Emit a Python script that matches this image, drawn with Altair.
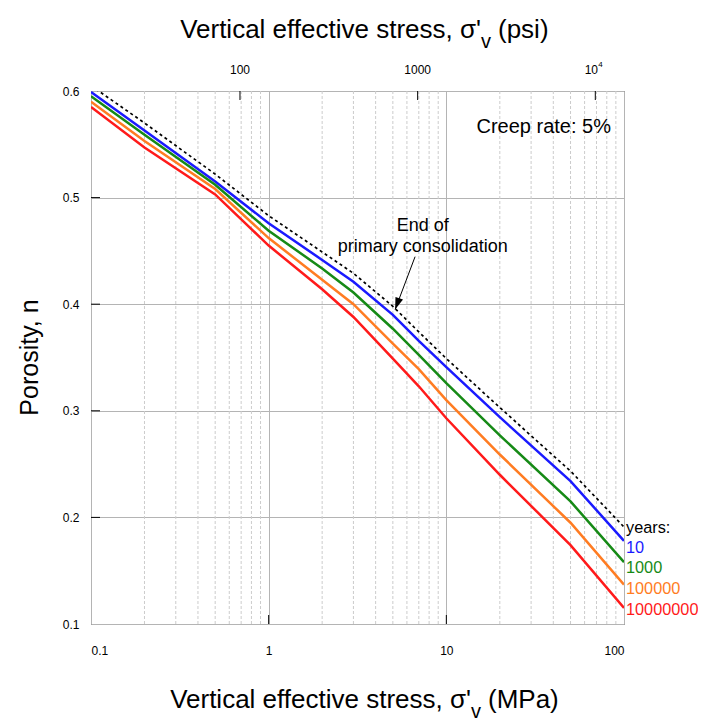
import altair as alt
import pandas as pd

# ---------------- data ----------------
stress_mpa = [0.1, 0.2, 0.5, 1, 2, 3, 5, 7, 10, 20, 50, 100]
n_primary = [0.605, 0.570, 0.522, 0.483, 0.449, 0.429, 0.398, 0.374, 0.349, 0.303, 0.2435, 0.191]
n_10yr = [0.599, 0.563, 0.515, 0.476, 0.4415, 0.421, 0.390, 0.3655, 0.341, 0.294, 0.234, 0.178]
n_1000yr = [0.595, 0.559, 0.512, 0.469, 0.4335, 0.411, 0.377, 0.3525, 0.326, 0.277, 0.215, 0.158]
n_1e5yr = [0.590, 0.553, 0.508, 0.462, 0.423, 0.400, 0.363, 0.339, 0.310, 0.259, 0.195, 0.137]
n_1e7yr = [0.585, 0.547, 0.503, 0.455, 0.414, 0.388, 0.349, 0.323, 0.293, 0.240, 0.174, 0.115]

series_names = ["10", "1000", "100000", "10000000"]
series_colors = ["#1a1aff", "#168a16", "#ff7c22", "#ff1a1a"]
series_label_n = [0.1713, 0.1525, 0.1328, 0.1131]
years_label_n = 0.190

x_major = [0.1, 1, 10, 100]
x_minor = [0.2, 0.3, 0.4, 0.5, 0.6, 0.7, 0.8, 0.9,
           2, 3, 4, 5, 6, 7, 8, 9,
           20, 30, 40, 50, 60, 70, 80, 90]
x_inner_ticks = [1, 10]
y_values = [0.1, 0.2, 0.3, 0.4, 0.5, 0.6]
y_inner_ticks = [0.2, 0.3, 0.4, 0.5]
psi_ticks = [100, 1000, 10000]
psi_labels = ["100", "1000", "10"]
psi_superscript = "4"
PSI_TO_MPA = 0.00689476

creep_text = "Creep rate: 5%"
creep_pos = (84.5, 0.5665)
eop_lines = ["End of", "primary consolidation"]
eop_pos = [(7.36, 0.4734), (7.36, 0.4540)]
arrow_start = (6.67, 0.4446)
arrow_tip = (5.15, 0.395)

FONT = "Liberation Sans, Arial, sans-serif"
W, H = 533, 533

# ---------------- tables ----------------
curves = pd.DataFrame(
    [
        {"stress": s, "n": v, "series": name, "order": i}
        for name, vals in zip(series_names, [n_10yr, n_1000yr, n_1e5yr, n_1e7yr])
        for i, (s, v) in enumerate(zip(stress_mpa, vals))
    ]
)
primary = pd.DataFrame({"stress": stress_mpa, "n": n_primary})
labels_df = pd.DataFrame(
    {"stress": [100] * 4, "n": series_label_n, "series": series_names}
)

xscale = alt.Scale(type="log", domain=[0.1, 100], nice=False)
yscale = alt.Scale(domain=[0.1, 0.6], nice=False, zero=False)
xaxis = alt.Axis(values=x_major, format="~g", grid=True, gridColor="#b4b4b4",
                 gridWidth=1, ticks=False, domain=False, title=None,
                 labelFontSize=12, labelPadding=21, labelFont=FONT,
                 labelColor="#000000")
yaxis = alt.Axis(values=y_values, format=".1f", grid=True, gridColor="#b4b4b4",
                 gridWidth=1, ticks=False, domain=False, title=None,
                 labelFontSize=12, labelPadding=12, labelFont=FONT,
                 labelColor="#000000")


def X(field="stress"):
    return alt.X(f"{field}:Q", scale=xscale, axis=xaxis)


def Y(field="n"):
    return alt.Y(f"{field}:Q", scale=yscale, axis=yaxis)


color_scale = alt.Scale(domain=series_names, range=series_colors)

minor_grid = alt.Chart(pd.DataFrame({"stress": x_minor})).mark_rule(
    color="#cccccc", strokeWidth=1, strokeDash=[3, 2]
).encode(x=X())

bottom_ticks = alt.Chart(pd.DataFrame({"stress": x_inner_ticks})).mark_rule(
    color="#000000", strokeWidth=1
).encode(x=X(), y=alt.value(H), y2=alt.value(H - 9))

left_ticks = alt.Chart(pd.DataFrame({"n": y_inner_ticks})).mark_rule(
    color="#000000", strokeWidth=1
).encode(y=Y(), x=alt.value(0), x2=alt.value(9))

psi_df = pd.DataFrame({"psi": psi_ticks, "label": psi_labels})
psi_base = alt.Chart(psi_df).transform_calculate(
    stress=f"datum.psi * {PSI_TO_MPA}"
)
top_ticks = psi_base.mark_rule(color="#000000", strokeWidth=1).encode(
    x=X(), y=alt.value(0), y2=alt.value(9)
)
top_labels = psi_base.transform_filter("datum.psi < 10000").mark_text(
    fontSize=12, font=FONT, baseline="middle", align="center"
).encode(x=X(), y=alt.value(-21), text="label:N")
top_label_pow = psi_base.transform_filter("datum.psi == 10000").mark_text(
    fontSize=12, font=FONT, baseline="middle", align="center", dx=-4
).encode(x=X(), y=alt.value(-21), text="label:N")
top_sup = psi_base.transform_filter("datum.psi == 10000").mark_text(
    fontSize=8, font=FONT, baseline="middle", align="left", text=psi_superscript,
    dx=3, dy=-5
).encode(x=X(), y=alt.value(-21))

lines = alt.Chart(curves).mark_line(strokeWidth=2.5, clip=True).encode(
    x=X(), y=Y(),
    color=alt.Color("series:N", scale=color_scale, legend=None),
    order="order:Q",
    detail="series:N",
)

primary_line = alt.Chart(primary).mark_line(
    color="#000000", strokeWidth=1.7, strokeDash=[3, 3], clip=True
).encode(x=X(), y=Y())

series_labels = alt.Chart(labels_df).mark_text(
    fontSize=16.3, font=FONT, align="left", baseline="middle", dx=2
).encode(
    x=X(), y=Y(), text="series:N",
    color=alt.Color("series:N", scale=color_scale, legend=None),
)
years_label = alt.Chart(pd.DataFrame({"stress": [100], "n": [years_label_n], "t": ["years:"]})).mark_text(
    fontSize=16.3, font=FONT, align="left", baseline="middle", dx=2, color="#000000"
).encode(x=X(), y=Y(), text="t:N")

creep = alt.Chart(pd.DataFrame({"stress": [creep_pos[0]], "n": [creep_pos[1]], "t": [creep_text]})).mark_text(
    fontSize=20, font=FONT, align="right", baseline="middle", color="#000000"
).encode(x=X(), y=Y(), text="t:N")

eop = alt.Chart(pd.DataFrame({
    "stress": [p[0] for p in eop_pos], "n": [p[1] for p in eop_pos], "t": eop_lines
})).mark_text(fontSize=18, font=FONT, align="center", baseline="middle",
              color="#000000").encode(x=X(), y=Y(), text="t:N")

arrow_line = alt.Chart(pd.DataFrame({
    "stress": [arrow_start[0]], "n": [arrow_start[1]],
    "stress2": [arrow_tip[0]], "n2": [arrow_tip[1]],
})).mark_rule(color="#000000", strokeWidth=1).encode(
    x=X(), y=Y(), x2="stress2:Q", y2="n2:Q"
)
arrow_head = alt.Chart(pd.DataFrame({"stress": [arrow_tip[0]], "n": [arrow_tip[1]]})).mark_point(
    shape="M0,0 L0.8,2.4 L-0.8,2.4 Z", size=100, angle=200, filled=True,
    color="#000000", opacity=1, strokeWidth=0
).encode(x=X(), y=Y())

one = pd.DataFrame({"a": [0]})


def txt(text, x, y, size, align="center", angle=0, baseline="middle"):
    return alt.Chart(one).mark_text(
        text=text, fontSize=size, font=FONT, align=align, baseline=baseline,
        angle=angle, color="#000000"
    ).encode(x=alt.value(x), y=alt.value(y))


TOP_J = 390
BOT_J = 380
titles = [
    txt("Vertical effective stress, σ'", TOP_J, -61, 26, align="right"),
    txt("v", TOP_J, -49, 20, align="left"),
    txt("(psi)", TOP_J + 17, -61, 26, align="left"),
    txt("Vertical effective stress, σ'", BOT_J, 609, 26, align="right"),
    txt("v", BOT_J, 621, 20, align="left"),
    txt("(MPa)", BOT_J + 17, 609, 26, align="left"),
    txt("Porosity, n", -61, H / 2, 25, angle=270),
]

chart = alt.layer(
    minor_grid, bottom_ticks, left_ticks, top_ticks, top_labels, top_label_pow,
    top_sup, lines, primary_line, series_labels, years_label, creep, eop,
    arrow_line, arrow_head, *titles
).properties(
    width=W, height=H,
    background="white",
    padding={"left": 83, "top": 83, "right": 74, "bottom": 99},
    autosize=alt.AutoSizeParams(type="none"),
).configure_view(
    stroke="#3a3a3a", strokeWidth=1
)

chart.save("out.html", embed_options={"renderer": "svg", "actions": False})
